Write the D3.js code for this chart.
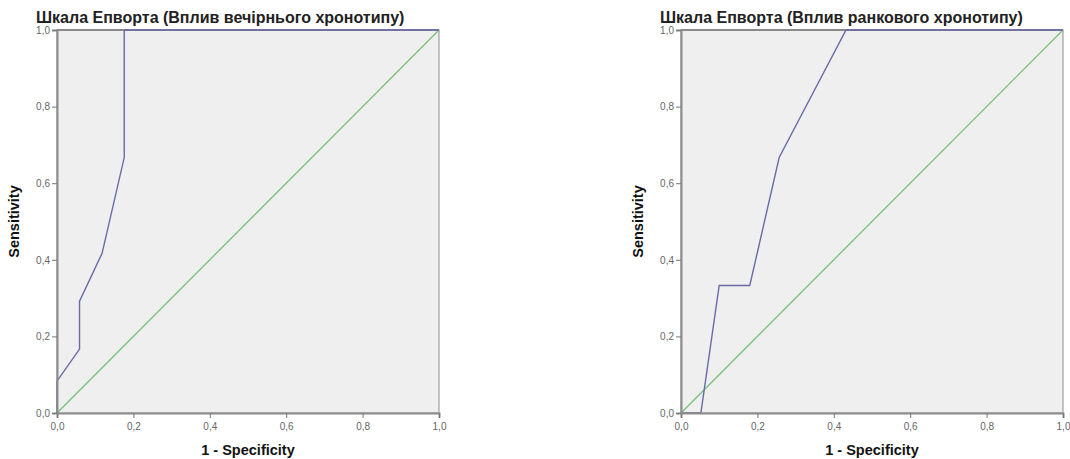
<!DOCTYPE html>
<html>
<head>
<meta charset="utf-8">
<script src="https://cdn.jsdelivr.net/npm/d3@7"></script>
<style>
  body { margin: 0; background: #fff; }
  svg { display: block; font-family: "Liberation Sans", Arial, sans-serif; }
</style>
</head>
<body>
<svg id="chart" width="1070" height="459"></svg>
<script>
// ROC data
const titles = ['Шкала Епворта (Вплив вечірнього хронотипу)', 'Шкала Епворта (Вплив ранкового хронотипу)'];
const tickValues = [0, 0.2, 0.4, 0.6, 0.8, 1.0];
const eveningFpr = [0, 0, 0.059, 0.059, 0.118, 0.176, 0.176, 1];
const eveningTpr = [0, 0.083, 0.167, 0.292, 0.417, 0.667, 1, 1];
const morningFpr = [0, 0.052, 0.10, 0.18, 0.257, 0.432, 1];
const morningTpr = [0, 0, 0.333, 0.333, 0.667, 1, 1];
const diagonal = [0, 1];

const panels = [
  {title: titles[0], fpr: eveningFpr, tpr: eveningTpr, x0: 57},
  {title: titles[1], fpr: morningFpr, tpr: morningTpr, x0: 681}
];

const plotW = 382, plotH = 383, plotTop = 30;
const fmt = v => d3.format('.1f')(v).replace('.', ',');
const svg = d3.select('#chart');

panels.forEach(p => {
  const g = svg.append('g').attr('transform', `translate(${p.x0},${plotTop})`);
  const x = d3.scaleLinear().domain([0, 1]).range([0, plotW]);
  const y = d3.scaleLinear().domain([0, 1]).range([plotH, 0]);

  // plot background + frame
  g.append('rect').attr('width', plotW).attr('height', plotH)
    .attr('fill', '#efefef').attr('stroke', '#8c8c8c').attr('stroke-width', 1);
  g.append('line').attr('x1', 0).attr('x2', plotW).attr('y1', 0).attr('y2', 0)
    .attr('stroke', '#555').attr('stroke-width', 1.2);

  // reference diagonal
  g.append('path').datum(diagonal)
    .attr('d', d3.line().x(d => x(d)).y(d => y(d)))
    .attr('fill', 'none').attr('stroke', '#7cc27c').attr('stroke-width', 1.4);

  // ROC curve
  const pts = p.fpr.map((f, i) => [f, p.tpr[i]]);
  g.append('path').datum(pts)
    .attr('d', d3.line().x(d => x(d[0])).y(d => y(d[1])))
    .attr('fill', 'none').attr('stroke', '#6a6aa8').attr('stroke-width', 1.4);

  // axes
  const xa = g.append('g').attr('transform', `translate(0,${plotH})`)
    .call(d3.axisBottom(x).tickValues(tickValues).tickFormat(fmt).tickSize(5).tickPadding(5));
  const ya = g.append('g')
    .call(d3.axisLeft(y).tickValues(tickValues).tickFormat(fmt).tickSize(5).tickPadding(2));
  [xa, ya].forEach(a => {
    a.select('.domain').attr('stroke', '#8c8c8c').attr('stroke-width', 2);
    a.selectAll('.tick line').attr('stroke', '#777');
    a.selectAll('.tick text').attr('fill', '#666').style('font-size', '10px')
      .style('font-family', '"Liberation Sans", Arial, sans-serif');
  });

  // labels
  g.append('text').attr('x', -21).attr('y', -7).text(p.title)
    .style('font-size', '16px').style('font-weight', 'bold').attr('fill', '#222');
  g.append('text').attr('x', plotW / 2).attr('y', plotH + 42).attr('text-anchor', 'middle')
    .text('1 - Specificity').style('font-size', '14.5px').style('font-weight', 'bold').attr('fill', '#111');
  g.append('text').attr('transform', `translate(${-38},${plotH / 2}) rotate(-90)`)
    .attr('text-anchor', 'middle').text('Sensitivity')
    .style('font-size', '14.5px').style('font-weight', 'bold').attr('fill', '#111');
});
</script>
</body>
</html>
